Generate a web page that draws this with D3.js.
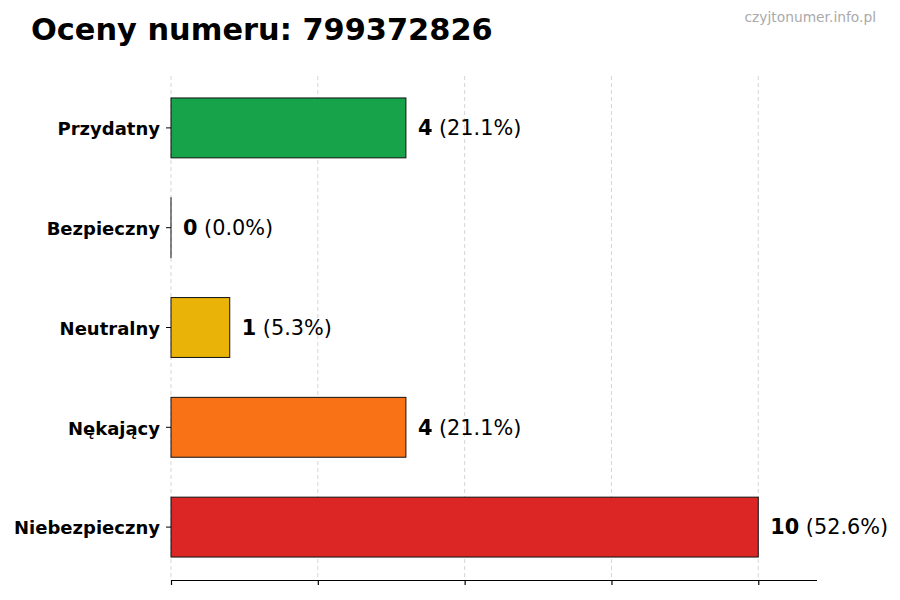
<!DOCTYPE html>
<html><head><meta charset="utf-8">
<script src="https://cdn.jsdelivr.net/npm/d3@7"></script>
<style>body{margin:0;background:#fff}svg{display:block}text{font-family:"DejaVu Sans",sans-serif}</style>
</head><body><svg id="c" width="900" height="600"></svg>
<script>
const categories = ["Przydatny","Bezpieczny","Neutralny","Nękający","Niebezpieczny"];
const values = [4,0,1,4,10];
const percents = ["21.1%","0.0%","5.3%","21.1%","52.6%"];
const colors = ["#16a34a","#9ca3af","#eab308","#f97316","#dc2626"];
const xTicks = [0,2.5,5,7.5,10];

const svg = d3.select("#c");
const pLeft = 171, pRight = 817, pTop = 76, pBottom = 580;
const x = d3.scaleLinear().domain([0,11]).range([pLeft,pRight]);
const y = d3.scaleBand().domain(categories).range([78,577]).padding(0);
const bh = y.bandwidth()*0.6;

// grid
svg.append("g").selectAll("line").data(xTicks).join("line")
  .attr("x1",d=>x(d)).attr("x2",d=>x(d)).attr("y1",pTop).attr("y2",pBottom)
  .attr("stroke","#cccccc").attr("stroke-width",0.8).attr("stroke-dasharray","4,3");

// bars
svg.append("g").selectAll("rect").data(values).join("rect")
  .attr("x",x(0)).attr("y",(d,i)=>y(categories[i])+y.bandwidth()/2-bh/2)
  .attr("width",d=>Math.max(x(d)-x(0),0.01)).attr("height",bh)
  .attr("fill",(d,i)=>colors[i]).attr("stroke","#111").attr("stroke-width",1);

// value labels
const lab = svg.append("g").selectAll("text").data(values).join("text")
  .attr("x",d=>x(d)+12).attr("y",(d,i)=>y(categories[i])+y.bandwidth()/2)
  .attr("dy","0.35em").attr("font-size",20.8).attr("fill","#000");
lab.append("tspan").attr("font-weight","bold").text(d=>d);
lab.append("tspan").text((d,i)=>" ("+percents[i]+")");

// x axis
const xa = svg.append("g").attr("transform",`translate(0,${pBottom})`)
  .call(d3.axisBottom(x).tickValues(xTicks).tickSize(5).tickFormat(""));
xa.select(".domain").attr("d",`M${pLeft},0.5H${pRight}`).attr("stroke","#000").attr("stroke-width",1.2);
xa.selectAll(".tick line").attr("stroke","#000").attr("stroke-width",1.2);

// y axis
const ya = svg.append("g").attr("transform",`translate(${pLeft},0)`)
  .call(d3.axisLeft(y).tickSize(5).tickPadding(6));
ya.select(".domain").remove();
ya.selectAll(".tick line").attr("stroke","#000");
ya.selectAll(".tick text").attr("font-size",18).attr("font-weight","bold").attr("fill","#000")
  .attr("dy","0.4em").style("font-family","'DejaVu Sans',sans-serif");

// title
svg.append("text").attr("x",31).attr("y",40).attr("font-size",30.4).attr("font-weight","bold")
  .attr("fill","#000").text("Oceny numeru: 799372826");
svg.append("text").attr("x",876).attr("y",22).attr("text-anchor","end").attr("font-size",13.8)
  .attr("fill","#aaaaaa").text("czyjtonumer.info.pl");
</script></body></html>
